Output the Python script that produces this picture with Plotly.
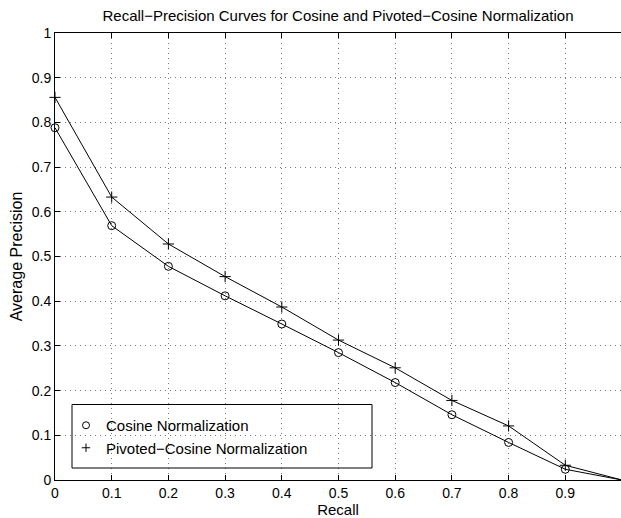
import plotly.graph_objects as go

recall = [0.0, 0.1, 0.2, 0.3, 0.4, 0.5, 0.6, 0.7, 0.8, 0.9, 1.0]
cosine = [0.788, 0.569, 0.478, 0.412, 0.349, 0.285, 0.218, 0.146, 0.084, 0.024, 0.0]
pivoted = [0.856, 0.633, 0.528, 0.455, 0.387, 0.313, 0.251, 0.178, 0.121, 0.033, 0.0]
xticks = [0, 0.1, 0.2, 0.3, 0.4, 0.5, 0.6, 0.7, 0.8, 0.9, 1.0]
yticks = [0, 0.1, 0.2, 0.3, 0.4, 0.5, 0.6, 0.7, 0.8, 0.9, 1.0]
names = ["Cosine Normalization", "Pivoted\u2212Cosine Normalization"]

W, H = 621, 518
L, R, T, B = 55, 0, 33, 38
pw = W - L - R
ph = H - T - B
x_max = pw / 567.0

FONT = "Liberation Sans, Arial, Helvetica, sans-serif"

fig = go.Figure()
fig.add_trace(go.Scatter(
    x=recall, y=cosine, mode="lines+markers", name=names[0], showlegend=False,
    line=dict(color="black", width=1),
    marker=dict(symbol="circle-open", size=8, color="black", line=dict(width=1)),
    cliponaxis=False,
))
fig.add_trace(go.Scatter(
    x=recall, y=pivoted, mode="lines+markers", name=names[1], showlegend=False,
    line=dict(color="black", width=1),
    marker=dict(symbol="cross-thin-open", size=8, color="black", line=dict(width=1, color="black")),
    cliponaxis=False,
))
# legend-only entries (markers only, as in the original)
fig.add_trace(go.Scatter(
    x=[None], y=[None], mode="markers", name=names[0],
    marker=dict(symbol="circle-open", size=7, color="black", line=dict(width=1)),
))
fig.add_trace(go.Scatter(
    x=[None], y=[None], mode="markers", name=names[1],
    marker=dict(symbol="cross-thin-open", size=6, color="black", line=dict(width=1, color="black")),
))

def px2paper_x(px):
    return (px - L) / pw

def px2paper_y(py):
    return (H - B - py) / ph

fig.add_shape(type="rect", xref="paper", yref="paper",
              x0=px2paper_x(72), x1=px2paper_x(372), y0=px2paper_y(468), y1=px2paper_y(404.5),
              line=dict(color="black", width=1), fillcolor="rgba(0,0,0,0)", layer="above")

grid = dict(showgrid=True, gridcolor="#777", griddash="1px,4px", gridwidth=1)

fig.update_layout(
    width=W, height=H,
    margin=dict(l=L, r=R, t=T, b=B, pad=0),
    paper_bgcolor="white", plot_bgcolor="white",
    font=dict(family=FONT, size=14, color="black"),
    title=dict(text="Recall\u2212Precision Curves for Cosine and Pivoted\u2212Cosine Normalization",
               x=338 / W, xanchor="center", y=1 - 16 / H, yanchor="middle",
               font=dict(size=15)),
    showlegend=True,
    legend=dict(x=px2paper_x(66), y=px2paper_y(409), xanchor="left", yanchor="top",
                bgcolor="rgba(0,0,0,0)", borderwidth=0, font=dict(size=15),
                itemwidth=30, tracegroupgap=0),
    xaxis=dict(range=[0, x_max], tickvals=xticks, ticktext=[("%g" % v) for v in xticks],
               showline=True, linecolor="black", linewidth=1, mirror="ticks",
               ticks="inside", ticklen=5, tickcolor="black",
               zeroline=False, tickfont=dict(size=14),
               title=dict(text="Recall", standoff=1, font=dict(size=15)), **grid),
    yaxis=dict(range=[0, 1], tickvals=yticks, ticktext=[("%g" % v) for v in yticks],
               showline=True, linecolor="black", linewidth=1, mirror=False,
               ticks="inside", ticklen=5, tickcolor="black",
               zeroline=False, tickfont=dict(size=14),
               title=dict(text="Average Precision", standoff=5, font=dict(size=16)), **grid),
)

fig.write_html("out.html")
